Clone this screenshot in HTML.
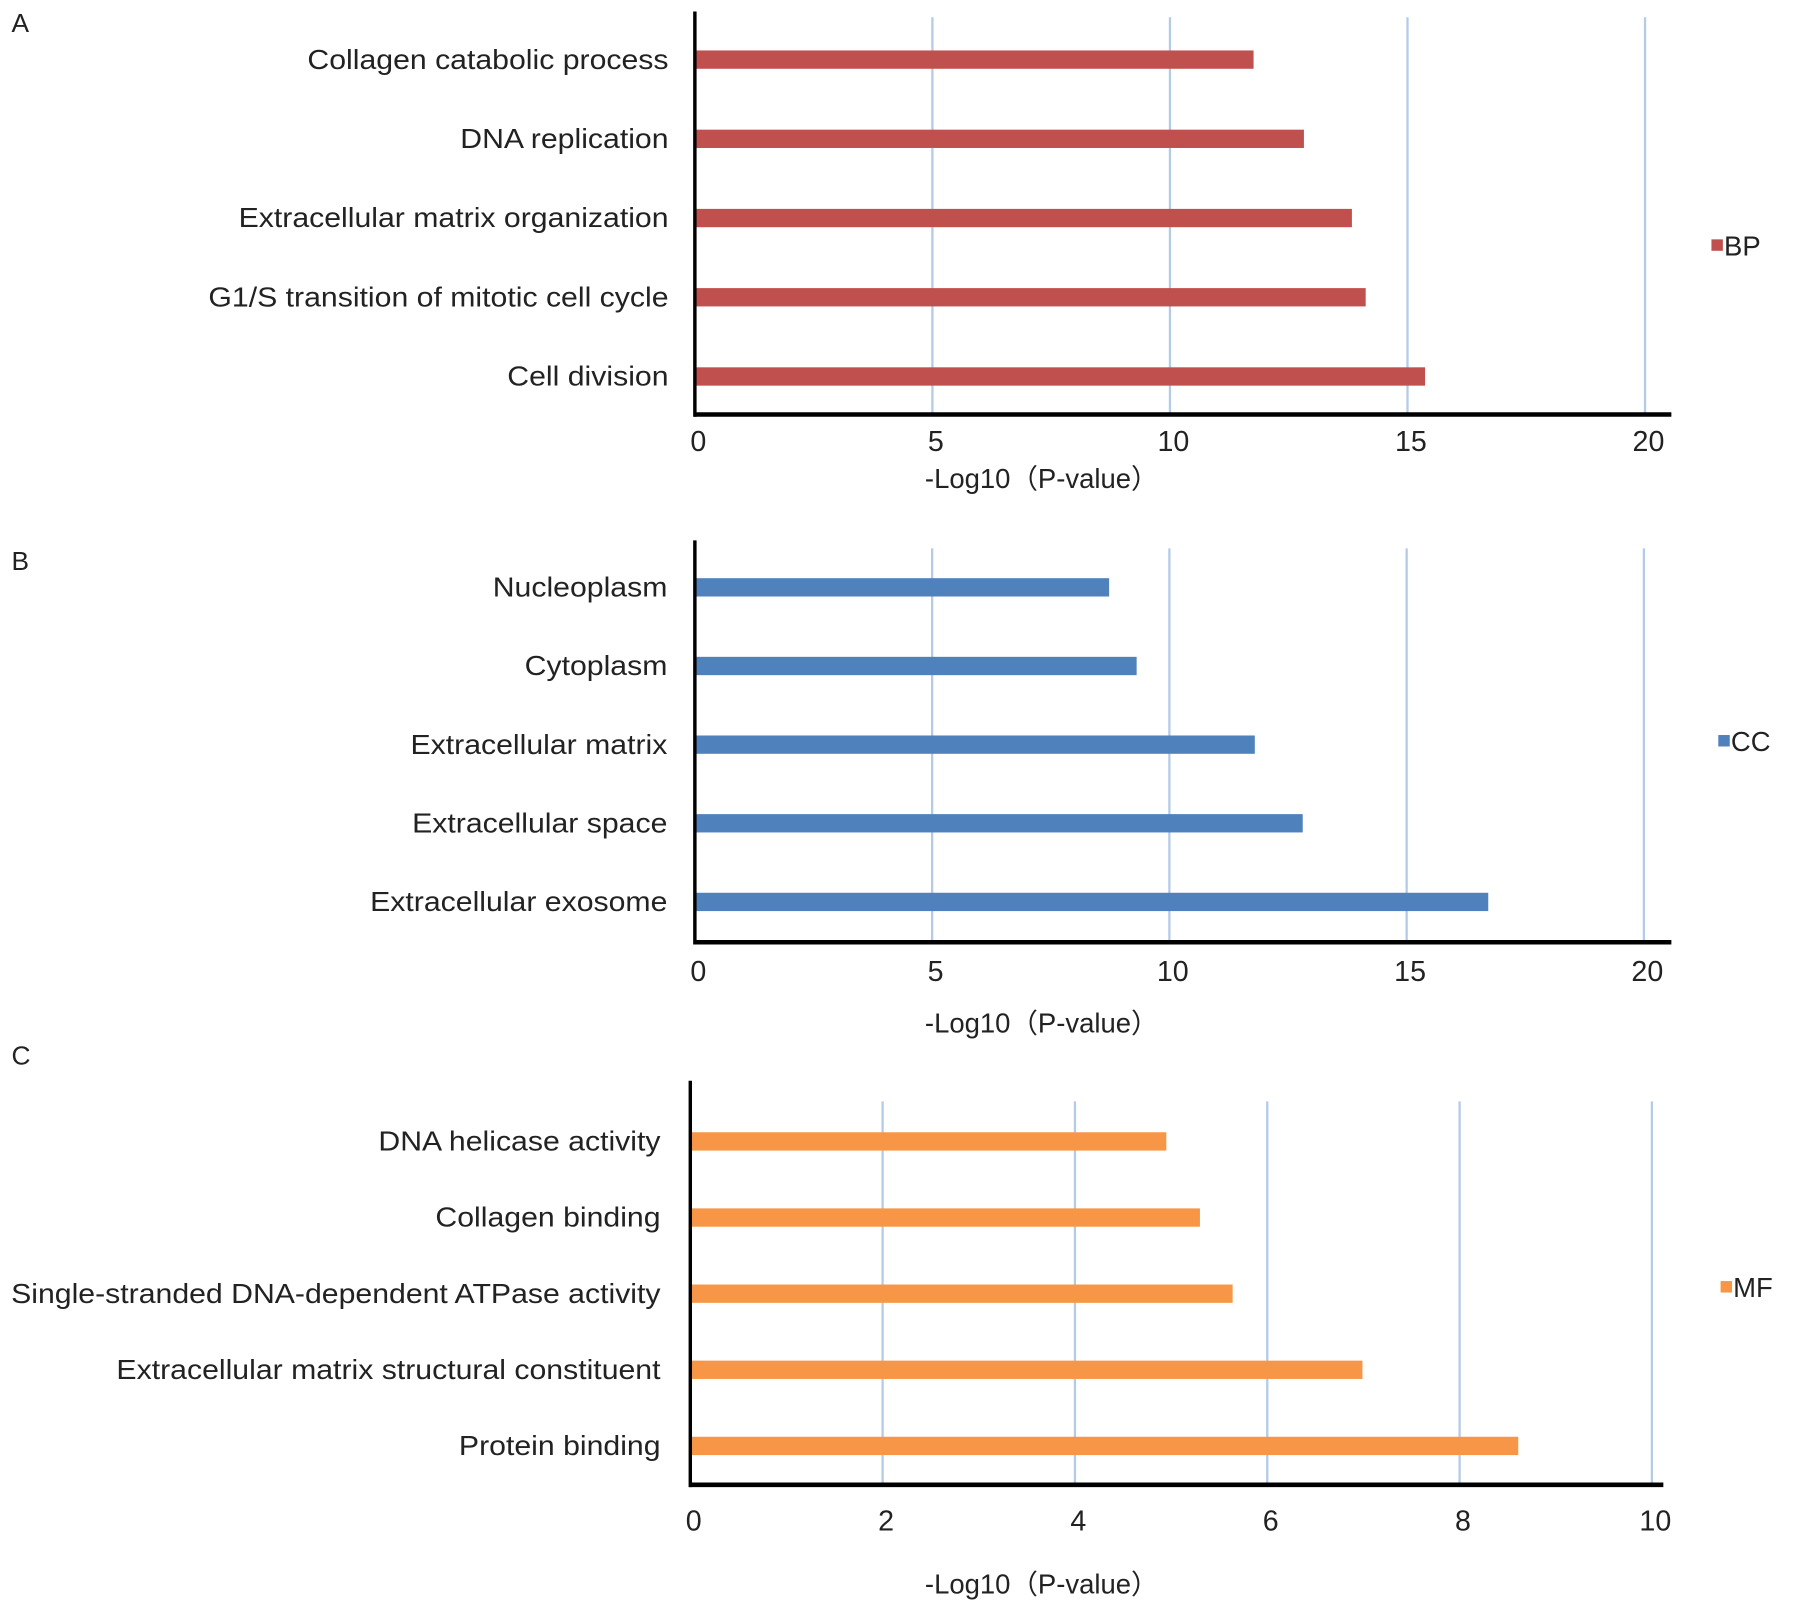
<!DOCTYPE html>
<html><head><meta charset="utf-8"><style>
html,body{margin:0;padding:0;background:#fff;}
svg{display:block;font-family:"Liberation Sans",sans-serif;}
</style></head><body>
<svg id="fig" width="1795" height="1612" viewBox="0 0 1568 1408" xmlns="http://www.w3.org/2000/svg"></svg>
<script>
// Panel A (BP)
const bpCategories = ["Collagen catabolic process","DNA replication","Extracellular matrix organization","G1/S transition of mitotic cell cycle","Cell division"];
const bpValues = [11.76, 12.82, 13.83, 14.12, 15.37];
const bpTicks = [0,5,10,15,20];
// Panel B (CC)
const ccCategories = ["Nucleoplasm","Cytoplasm","Extracellular matrix","Extracellular space","Extracellular exosome"];
const ccValues = [8.73, 9.31, 11.8, 12.81, 16.72];
const ccTicks = [0,5,10,15,20];
// Panel C (MF)
const mfCategories = ["DNA helicase activity","Collagen binding","Single-stranded DNA-dependent ATPase activity","Extracellular matrix structural constituent","Protein binding"];
const mfValues = [4.95, 5.30, 5.64, 6.99, 8.61];
const mfTicks = [0,2,4,6,8,10];

const NS="http://www.w3.org/2000/svg";
const svg=document.getElementById('fig');
function mk(tag,attrs,parent){const e=document.createElementNS(NS,tag);for(const k in attrs)e.setAttribute(k,attrs[k]);(parent||svg).appendChild(e);return e;}
function widen(t,k){const w=t.getComputedTextLength();t.setAttribute('textLength',w*k);t.setAttribute('lengthAdjust','spacingAndGlyphs');}

const panels=[
 {id:'a',letter:'A',ly:28,cats:bpCategories,vals:bpValues,ticks:bpTicks,color:'#c0504d',legend:'BP',
  x0:607,x1:1437,axisEnd:1460,top:10,gridTop:15,bottom:362,yFirst:52,yStep:69.2,labelX:584,tickY:394,titleY:426,legX:1495,legY:214},
 {id:'b',letter:'B',ly:498,cats:ccCategories,vals:ccValues,ticks:ccTicks,color:'#4f81bd',legend:'CC',
  x0:607,x1:1436,axisEnd:1460,top:472,gridTop:479,bottom:823,yFirst:513,yStep:68.7,labelX:583,tickY:857,titleY:902,legX:1501,legY:647},
 {id:'c',letter:'C',ly:930,cats:mfCategories,vals:mfValues,ticks:mfTicks,color:'#f79646',legend:'MF',
  x0:603,x1:1443,axisEnd:1453,top:944,gridTop:962,bottom:1297,yFirst:997,yStep:66.5,labelX:577,tickY:1337,titleY:1392,legX:1503,legY:1124}
];

panels.forEach(p=>{
  const g=mk('g',{});
  
  
  const maxT=p.ticks[p.ticks.length-1];
  const xs=v=>p.x0+(p.x1-p.x0)*v/maxT;
  const lt=mk('text',{x:10,y:p.ly,'font-size':23,fill:'#222'},g);lt.textContent=p.letter;
  
  
  p.ticks.forEach(t=>{
    if(t>0){const gl=mk('line',{x1:xs(t),x2:xs(t),y1:p.gridTop,y2:p.bottom,stroke:'#b4cbe8','stroke-width':2},g);
      
      }
    const tl=mk('text',{x:xs(t)+3,y:p.tickY,'font-size':25,'text-anchor':'middle',fill:'#222'},g);tl.textContent=t;
    
    
  });
  p.cats.forEach((c,i)=>{
    const cy=p.yFirst+i*p.yStep;
    const b=mk('rect',{x:p.x0,y:cy-8,width:xs(p.vals[i])-p.x0,height:16,fill:p.color},g);
    
    
    const l=mk('text',{x:p.labelX,y:cy+8,'font-size':24,'text-anchor':'end',fill:'#222'},g);l.textContent=c;
    
    
    widen(l,1.1);
  });
  const ya=mk('line',{x1:p.x0,x2:p.x0,y1:p.top,y2:p.bottom+2,stroke:'#000','stroke-width':3},g);
  
  
  const xa=mk('line',{x1:p.x0-1,x2:p.axisEnd,y1:p.bottom,y2:p.bottom,stroke:'#000','stroke-width':4},g);
  
  
  const ti=mk('text',{x:910,y:p.titleY,'font-size':24,'text-anchor':'middle',fill:'#222'},g);ti.textContent='-Log10\uFF08P-value\uFF09';
  
  
  const lg=mk('g',{},g);
  
  
  mk('rect',{x:p.legX,y:p.legY-5,width:10,height:10,fill:p.color},lg);
  const lgt=mk('text',{x:p.legX+11,y:p.legY+9,'font-size':24,fill:'#222'},lg);lgt.textContent=p.legend;
});
</script>
</body></html>
